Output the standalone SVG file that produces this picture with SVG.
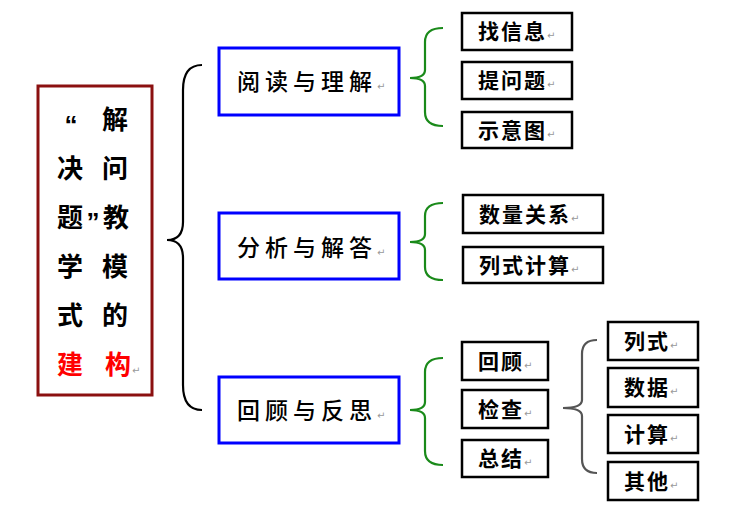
<svg xmlns="http://www.w3.org/2000/svg" width="743" height="521" viewBox="0 0 743 521">
<style>
.t{font-family:"Noto Sans CJK SC","Noto Sans CJK TC",sans-serif;fill:#000}
.big{font-size:26px;font-weight:bold}
.q{font-family:"Liberation Sans",sans-serif;font-size:26px;font-weight:bold}
.mid{font-size:23px;font-weight:500;letter-spacing:5px}
.sm{font-size:21px;font-weight:bold;letter-spacing:2px}
.rm{font-family:"DejaVu Sans",sans-serif;font-size:10px;fill:#999;font-weight:normal;letter-spacing:0}
.blue{fill:#fff;stroke:#0000ff;stroke-width:3}
.blk{fill:#fff;stroke:#000;stroke-width:2.5}
.red{fill:#fff;stroke:#8b1010;stroke-width:3}
.br{fill:none;stroke-width:2.2}
</style>
<rect width="743" height="521" fill="#fff"/>
<g id="connectors">
<path class="br" stroke="#000" d="M202,65 Q183,65 183,90 L183,222 Q183,240 167,240 Q183,240 183,258 L183,385 Q183,410 202,410"/>
<path class="br" stroke="#1a8a1a" d="M443,28 Q425,28 425,42 L425,70 Q425,78 410,78 Q425,78 425,86 L425,112 Q425,126 443,126"/>
<path class="br" stroke="#1a8a1a" d="M443,203 Q425,203 425,216 L425,234 Q425,242 410,242 Q425,242 425,250 L425,267 Q425,280 443,280"/>
<path class="br" stroke="#1a8a1a" d="M443,358 Q425,358 425,372 L425,402 Q425,410 410,410 Q425,410 425,418 L425,451 Q425,465 443,465"/>
<path class="br" stroke="#555" stroke-width="1.6" d="M597,340 Q582,340 582,354 L582,400 Q582,408 563,408 Q582,408 582,416 L582,459 Q582,473 597,473"/>
</g>
<g id="root">
<rect class="red" x="38" y="86" width="114" height="309"/>
<text class="q" x="71" y="134" text-anchor="middle">“</text>
<text class="q" x="93" y="231" text-anchor="middle">”</text>
<text class="t big" text-anchor="middle">
<tspan x="118" y="129">解</tspan>
<tspan x="70" y="178">决</tspan><tspan x="118" y="178">问</tspan>
<tspan x="70" y="227">题</tspan><tspan x="119" y="227">教</tspan>
<tspan x="70" y="276">学</tspan><tspan x="118" y="276">模</tspan>
<tspan x="70" y="325">式</tspan><tspan x="118" y="325">的</tspan>
<tspan x="70" y="374" fill="#ff0000">建</tspan><tspan x="118" y="374" fill="#ff0000">构</tspan>
</text>
<text class="rm" x="132" y="374">↵</text>
</g>
<g id="n-read">
<rect class="blue" x="219" y="48" width="180" height="67"/>
<text class="t mid" x="237" y="90">阅读与理解<tspan class="rm">↵</tspan></text>
</g>
<g id="n-analyze">
<rect class="blue" x="219" y="213" width="180" height="66"/>
<text class="t mid" x="237" y="256">分析与解答<tspan class="rm">↵</tspan></text>
</g>
<g id="n-review">
<rect class="blue" x="219" y="377" width="180" height="66"/>
<text class="t mid" x="237" y="419">回顾与反思<tspan class="rm">↵</tspan></text>
</g>
<g id="n-find">
<rect class="blk" x="462" y="13" width="110" height="37"/>
<text class="t sm" x="478" y="39">找信息<tspan class="rm">↵</tspan></text>
</g>
<g id="n-ask">
<rect class="blk" x="462" y="62" width="110" height="37"/>
<text class="t sm" x="478" y="88">提问题<tspan class="rm">↵</tspan></text>
</g>
<g id="n-draw">
<rect class="blk" x="462" y="112" width="110" height="36"/>
<text class="t sm" x="478" y="138">示意图<tspan class="rm">↵</tspan></text>
</g>
<g id="n-quant">
<rect class="blk" x="463" y="195" width="140" height="38"/>
<text class="t sm" x="479" y="222">数量关系<tspan class="rm">↵</tspan></text>
</g>
<g id="n-calc">
<rect class="blk" x="463" y="247" width="140" height="36"/>
<text class="t sm" x="479" y="273">列式计算<tspan class="rm">↵</tspan></text>
</g>
<g id="n-back">
<rect class="blk" x="462" y="342" width="86" height="38"/>
<text class="t sm" x="478" y="369">回顾<tspan class="rm">↵</tspan></text>
</g>
<g id="n-check">
<rect class="blk" x="462" y="390" width="86" height="38"/>
<text class="t sm" x="478" y="417">检查<tspan class="rm">↵</tspan></text>
</g>
<g id="n-sum">
<rect class="blk" x="462" y="440" width="86" height="37"/>
<text class="t sm" x="478" y="466">总结<tspan class="rm">↵</tspan></text>
</g>
<g id="n-formula">
<rect class="blk" x="608" y="322" width="90" height="38"/>
<text class="t sm" x="624" y="349">列式<tspan class="rm">↵</tspan></text>
</g>
<g id="n-data">
<rect class="blk" x="608" y="368" width="90" height="39"/>
<text class="t sm" x="624" y="395">数据<tspan class="rm">↵</tspan></text>
</g>
<g id="n-compute">
<rect class="blk" x="608" y="415" width="90" height="38"/>
<text class="t sm" x="624" y="442">计算<tspan class="rm">↵</tspan></text>
</g>
<g id="n-other">
<rect class="blk" x="608" y="462" width="90" height="38"/>
<text class="t sm" x="624" y="489">其他<tspan class="rm">↵</tspan></text>
</g>
</svg>
